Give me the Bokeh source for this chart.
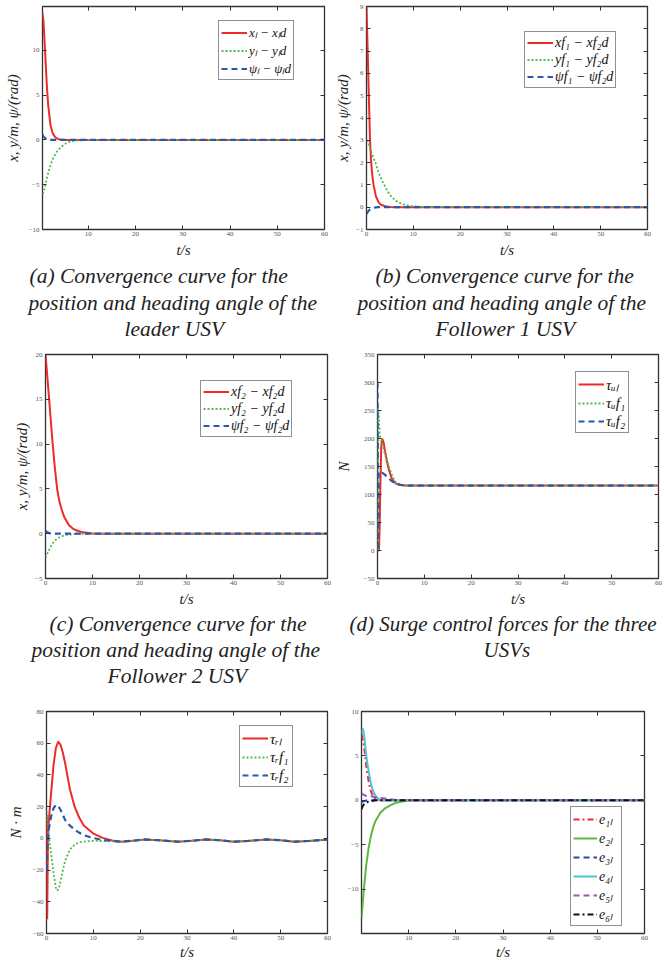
from bokeh.plotting import figure
from bokeh.models import Range1d, FixedTicker, LinearAxis, Legend, LegendItem, Title
from bokeh.layouts import column, row
from bokeh.embed import file_html
from bokeh.resources import INLINE

# ---------------- data ----------------
# (a) leader USV
ta = [0.25, 0.5, 0.75, 1.0, 1.25, 1.5, 2.0, 2.5, 3.0, 3.5, 4.0, 5.0, 6.0, 7.0, 8.0, 10.0, 60.0]
a_x = [14.2, 13.3, 10.9, 8.3, 5.8, 3.9, 1.6, 0.7, 0.3, 0.12, 0.05, 0.0, 0.0, 0.0, 0.0, 0.0, 0.0]
a_y = [-6.0, -5.9, -5.4, -4.8, -4.2, -3.7, -2.8, -2.1, -1.6, -1.2, -0.9, -0.45, -0.22, -0.1, -0.05, 0.0, 0.0]
a_psi = [0.6, 0.4, 0.25, 0.15, 0.08, 0.04, 0.01, 0.0, 0.0, 0.0, 0.0, 0.0, 0.0, 0.0, 0.0, 0.0, 0.0]

# (b) follower 1
tb = [0.0, 0.25, 0.5, 0.75, 1.0, 1.25, 1.5, 2.0, 2.5, 3.0, 4.0, 5.0, 6.0, 7.0, 8.0, 9.0, 10.0, 12.0, 60.0]
b_x = [9.0, 7.0, 5.0, 3.0, 2.0, 1.4, 1.0, 0.5, 0.25, 0.12, 0.04, 0.01, 0.0, 0.0, 0.0, 0.0, 0.0, 0.0, 0.0]
b_y = [3.0, 2.95, 2.8, 2.65, 2.5, 2.35, 2.2, 1.95, 1.6, 1.35, 0.9, 0.55, 0.33, 0.2, 0.12, 0.07, 0.04, 0.01, 0.0]
b_psi = [-0.3, -0.22, -0.15, -0.1, -0.07, -0.05, -0.03, -0.01, 0.0, 0.0, 0.0, 0.0, 0.0, 0.0, 0.0, 0.0, 0.0, 0.0, 0.0]

# (c) follower 2
tc = [0.0, 0.5, 1.0, 1.5, 2.0, 2.5, 3.0, 3.5, 4.0, 5.0, 6.0, 7.0, 8.0, 10.0, 12.0, 60.0]
c_x = [20.0, 16.8, 13.5, 10.2, 7.3, 4.9, 3.5, 2.6, 1.85, 0.95, 0.5, 0.3, 0.15, 0.03, 0.0, 0.0]
c_y = [-2.7, -2.1, -1.55, -1.1, -0.78, -0.55, -0.4, -0.28, -0.2, -0.1, -0.05, -0.02, -0.01, 0.0, 0.0, 0.0]
c_psi = [0.3, 0.12, 0.04, 0.01, 0.0, 0.0, 0.0, 0.0, 0.0, 0.0, 0.0, 0.0, 0.0, 0.0, 0.0, 0.0]

# (d) surge control forces
td_l = [0.0, 0.3, 0.45, 0.6, 0.8, 1.0, 1.3, 1.6, 2.0, 2.5, 3.0, 3.5, 4.0, 5.0, 6.0, 60.0]
d_l = [0, 0, 40, 110, 185, 200, 193, 178, 160, 142, 130, 123, 119, 117, 116, 116]
td_f1 = [0.0, 0.1, 0.2, 0.5, 1.0, 1.5, 2.0, 2.5, 3.0, 3.5, 4.0, 5.0, 6.0, 60.0]
d_f1 = [255, 0, 250, 205, 192, 175, 160, 148, 137, 127, 121, 118, 116, 116]
td_f2 = [0.0, 0.12, 0.25, 0.5, 1.0, 1.5, 2.0, 2.5, 3.0, 4.0, 5.0, 6.0, 60.0]
d_f2 = [300, 0, 140, 141, 139, 136, 132, 128, 124, 119, 117, 116, 116]

# (e) yaw control torques: transients, then a shared tail
te_l = [0.05, 0.15, 0.3, 0.6, 1.0, 1.5, 2.0, 2.5, 3.0, 3.5, 4.0, 5.0, 6.0, 7.0, 8.0, 10.0, 12.0, 14.0]
e_l = [15, -51, 0, 15, 29, 46, 57, 61, 59, 54, 47, 31, 20, 13, 8, 3, 0.3, -1.3]
te_f1 = [0.05, 0.3, 0.6, 1.0, 1.5, 2.0, 2.3, 2.7, 3.0, 3.5, 4.0, 5.0, 6.0, 7.0, 8.0, 10.0, 12.0, 14.0]
e_f1 = [17, 8, -1, -10, -22, -31, -33, -31, -27, -20, -14, -7, -4, -2.5, -2, -1.6, -1.7, -1.9]
te_f2 = [0.05, 0.2, 0.5, 1.0, 1.5, 2.0, 2.5, 3.0, 4.0, 5.0, 6.0, 7.0, 8.0, 10.0, 12.0, 14.0]
e_f2 = [-20, -5, 6, 14, 19, 21, 20.5, 18, 11.5, 8, 5.5, 3.5, 2, 0.2, -1.0, -1.6]
te_tail = [16, 18, 21, 24, 28, 31, 34, 37, 40, 43, 47, 50, 53, 56, 60]
e_tail = [-2.1, -1.6, -0.7, -1.2, -2.1, -1.5, -0.7, -1.2, -2.1, -1.6, -0.7, -1.2, -2.1, -1.6, -0.8]

# (f) tracking errors
tf_1 = [0.0, 0.3, 0.6, 1.0, 1.3, 1.6, 2.0, 2.5, 3.0, 4.0, 60.0]
f_1 = [7.4, 6.8, 5.8, 3.9, 2.8, 1.9, 1.0, 0.4, 0.1, 0.0, 0.0]
tf_2 = [0.0, 0.5, 1.0, 1.5, 2.0, 2.5, 3.0, 4.0, 5.0, 6.0, 7.0, 8.0, 9.0, 10.0, 60.0]
f_2 = [-13.3, -10.0, -7.3, -5.4, -4.0, -3.0, -2.3, -1.4, -0.9, -0.6, -0.35, -0.2, -0.1, 0.0, 0.0]
tf_3 = [0.0, 0.5, 1.0, 1.5, 60.0]
f_3 = [-0.2, -0.1, -0.03, 0.0, 0.0]
tf_4 = [0.0, 0.3, 0.6, 0.9, 1.2, 1.6, 2.0, 2.5, 3.0, 3.5, 4.0, 5.0, 60.0]
f_4 = [7.5, 8.1, 7.1, 5.6, 4.3, 3.0, 1.9, 1.0, 0.5, 0.2, 0.05, 0.0, 0.0]
tf_5 = [0.0, 0.5, 1.0, 2.0, 3.0, 4.0, 5.0, 6.0, 7.0, 8.0, 60.0]
f_5 = [0.8, 0.6, 0.5, 0.45, 0.35, 0.25, 0.2, 0.12, 0.05, 0.0, 0.0]
tf_6 = [0.0, 0.3, 0.6, 1.0, 1.5, 2.0, 3.0, 60.0]
f_6 = [-1.0, -0.6, -0.4, -0.25, -0.15, -0.08, 0.0, 0.0]

ticks_x_full = [0, 10, 20, 30, 40, 50, 60]
ticks_x_no0 = [10, 20, 30, 40, 50, 60]

# ---------------- styling ----------------
SERIF = "Liberation Serif"
AXC = "#333333"
TICKC = "#555555"
RED = "#ee2b2b"
GREEN = "#4cbb4c"
BLUE = "#2a58aa"


def make_fig(xr, yr, xticks, yticks, fw, fh, bl, br, bt, bb, ylabel, ylab_standoff,
             captions, cap_offsets=(), xlab_standoff=3, cap_first=2, cap_size="21.5px"):
    p = figure(output_backend="svg", toolbar_location=None,
               frame_width=fw, frame_height=fh,
               x_range=Range1d(*xr), y_range=Range1d(*yr),
               min_border_left=bl, min_border_right=br,
               min_border_top=bt, min_border_bottom=bb,
               background_fill_color="white", border_fill_color="white")
    p.grid.visible = False
    p.outline_line_color = AXC
    p.outline_line_width = 1.3
    p.xaxis.ticker = FixedTicker(ticks=xticks)
    p.yaxis.ticker = FixedTicker(ticks=yticks)
    p.xaxis.axis_label = "t/s"
    if ylabel:
        p.yaxis.axis_label = ylabel
    for ax in (p.xaxis[0], p.yaxis[0]):
        ax.axis_line_color = None
        ax.major_tick_in = 4
        ax.major_tick_out = 0
        ax.major_tick_line_color = AXC
        ax.minor_tick_line_color = None
        ax.major_label_text_font = SERIF
        ax.major_label_text_font_size = "7px"
        ax.major_label_text_color = TICKC
        ax.major_label_standoff = 3
        ax.axis_label_text_font = SERIF
        ax.axis_label_text_font_style = "italic"
        ax.axis_label_text_font_size = "15px"
        ax.axis_label_text_color = "#222222"
    p.xaxis[0].axis_label_standoff = xlab_standoff
    p.xaxis[0].major_label_standoff = 2
    p.yaxis[0].axis_label_standoff = ylab_standoff
    # mirrored inward ticks on top and right (MATLAB box)
    top = LinearAxis(ticker=FixedTicker(ticks=xticks),
                     major_label_overrides={t: "" for t in xticks},
                     major_label_text_font_size="1px", major_label_standoff=0,
                     major_tick_in=4, major_tick_out=0, axis_line_color=None,
                     major_tick_line_color=AXC, minor_tick_line_color=None)
    right = LinearAxis(ticker=FixedTicker(ticks=yticks),
                       major_label_overrides={t: "" for t in yticks},
                       major_label_text_font_size="1px", major_label_standoff=0,
                       major_tick_in=4, major_tick_out=0, axis_line_color=None,
                       major_tick_line_color=AXC, minor_tick_line_color=None)
    p.add_layout(top, "above")
    p.add_layout(right, "right")
    for i, line in enumerate(captions):
        p.add_layout(Title(text=line, align="left", text_font=SERIF,
                           text_font_style="italic", text_font_size=cap_size,
                           text_color="#222222", offset=cap_offsets[i],
                           standoff=cap_first if i == 0 else 0), "below")
    return p


def add_legend(p, items, loc, font_size="14px", row_h=17, glyph_w=26):
    lg = Legend(items=[LegendItem(label=lab, renderers=[r]) for lab, r in items],
                location=loc, padding=2, spacing=0, margin=0,
                glyph_width=glyph_w, glyph_height=row_h, label_height=row_h,
                label_standoff=2, border_line_color="#222222", border_line_width=1.2,
                background_fill_color="white", background_fill_alpha=1.0,
                label_text_font=SERIF, label_text_font_style="italic",
                label_text_font_size=font_size, label_text_color="#111111")
    p.add_layout(lg)


YLAB = "x, y/m, ψ/(rad)"

# (a)
pa = make_fig((0.3, 60), (-10, 14.9), ticks_x_no0, [-10, -5, 0, 5, 10],
              282, 223, 42, 8, 6, 121, YLAB, 5,
              ["(a) Convergence curve for the", "position and heading angle of the", "leader USV"],
              cap_offsets=(-13, -14, 82))
r1 = pa.line(ta, a_x, line_color=RED, line_width=2)
r2 = pa.line(ta, a_y, line_color=GREEN, line_width=1.8, line_dash="2 2")
r3 = pa.line(ta, a_psi, line_color=BLUE, line_width=2.2, line_dash="6 4")
add_legend(pa, [("xₗ − xₗd", r1), ("yₗ − yₗd", r2), ("ψₗ − ψₗd", r3)], (176, 149), font_size="13px")

# (b)
pb = make_fig((0, 60), (-1, 9), ticks_x_full, list(range(-1, 10)),
              281, 223, 31, 20, 6, 121, YLAB, 2,
              ["(b) Convergence curve for the", "position and heading angle of the", "Follower 1 USV"],
              cap_offsets=(9, -9, 69))
r1 = pb.line(tb, b_x, line_color=RED, line_width=2)
r2 = pb.line(tb, b_y, line_color=GREEN, line_width=1.8, line_dash="2 2")
r3 = pb.line(tb, b_psi, line_color=BLUE, line_width=2.2, line_dash="6 4")
add_legend(pb, [("xf₁ − xf₂d", r1), ("yf₁ − yf₂d", r2), ("ψf₁ − ψf₂d", r3)], (158, 141))

# (c)
pc = make_fig((0, 60), (-5, 20), ticks_x_full, [-5, 0, 5, 10, 15, 20],
              282, 224, 45, 5, 4, 122, YLAB, 2,
              ["(c) Convergence curve for the", "position and heading angle of the", "Follower 2 USV"],
              cap_offsets=(4, -14, 62), cap_first=0)
r1 = pc.line(tc, c_x, line_color=RED, line_width=2)
r2 = pc.line(tc, c_y, line_color=GREEN, line_width=1.8, line_dash="2 2")
r3 = pc.line(tc, c_psi, line_color=BLUE, line_width=2.2, line_dash="6 4")
add_legend(pc, [("xf₂ − xf₂d", r1), ("yf₂ − yf₂d", r2), ("ψf₂ − ψf₂d", r3)], (155, 141))

# (d)
pd = make_fig((0, 60), (-50, 350), ticks_x_full, list(range(-50, 351, 50)),
              281, 224, 41, 10, 4, 122, "N", 9,
              ["(d) Surge control forces for the three", "USVs"],
              cap_offsets=(-28, 106), cap_first=0, cap_size="21px")
r1 = pd.line(td_l, d_l, line_color=RED, line_width=2)
r2 = pd.line(td_f1, d_f1, line_color=GREEN, line_width=1.8, line_dash="2 2")
r3 = pd.line(td_f2, d_f2, line_color=BLUE, line_width=2.2, line_dash="6 4")
add_legend(pd, [("τᵤₗ", r1), ("τᵤf₁", r2), ("τᵤf₂", r3)], (198, 145), font_size="15px", row_h=18)

# (e)
pe = make_fig((0, 60), (-60, 80), ticks_x_full, list(range(-60, 81, 20)),
              281, 222, 46, 5, 11, 27, "N · m", 6, [], xlab_standoff=1)
r1 = pe.line(te_l + te_tail, e_l + e_tail, line_color=RED, line_width=2)
r2 = pe.line(te_f1 + te_tail, e_f1 + e_tail, line_color=GREEN, line_width=1.8, line_dash="2 2")
r3 = pe.line(te_f2 + te_tail, e_f2 + e_tail, line_color=BLUE, line_width=2.2, line_dash="6 4")
add_legend(pe, [("τᵣₗ", r1), ("τᵣf₁", r2), ("τᵣf₂", r3)], (193, 146), font_size="15px", row_h=18)

# (f)
pf = make_fig((0, 60), (-15, 10), ticks_x_no0, [-10, -5, 0, 5, 10],
              283, 222, 29, 20, 11, 27, None, 2, [], xlab_standoff=1)
s1 = pf.line(tf_1, f_1, line_color="#e8312f", line_width=2, line_dash="6 3 2 3")
s2 = pf.line(tf_2, f_2, line_color="#5cb83e", line_width=2)
s3 = pf.line(tf_3, f_3, line_color="#1f4fa0", line_width=2, line_dash="6 4")
s4 = pf.line(tf_4, f_4, line_color="#4fc3d9", line_width=2)
s5 = pf.line(tf_5, f_5, line_color="#a352b7", line_width=2, line_dash="6 4")
s6 = pf.line(tf_6, f_6, line_color="#111111", line_width=2, line_dash="6 3 2 3")
add_legend(pf, [("e₁ₗ", s1), ("e₂ₗ", s2), ("e₃ₗ", s3), ("e₄ₗ", s4), ("e₅ₗ", s5), ("e₆ₗ", s6)],
           (209, 7), font_size="14px", row_h=16, glyph_w=24)

layout = column(row(pa, pb), row(pc, pd), row(pe, pf))
open("out.html", "w").write(file_html(layout, INLINE))
